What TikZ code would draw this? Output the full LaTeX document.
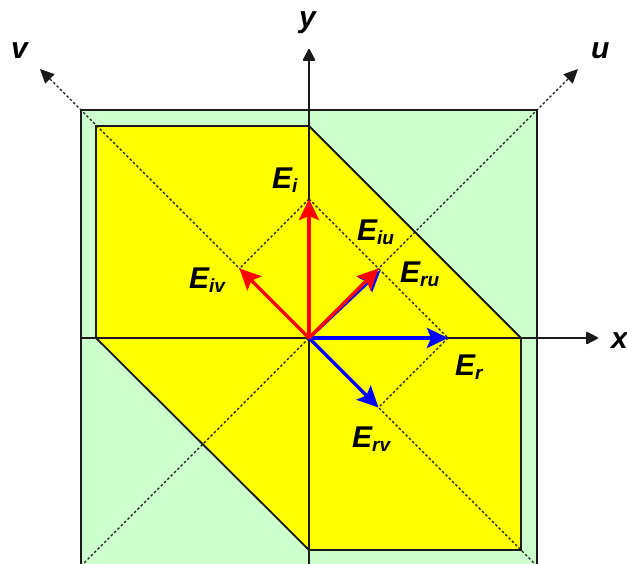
\documentclass[tikz,border=0pt]{standalone}
\usepackage{fontspec}
\setmainfont{Liberation Sans}
\usetikzlibrary{arrows.meta}
\definecolor{lgreen}{HTML}{CCFFCC}
\definecolor{yel}{HTML}{FFFF00}
\definecolor{ink}{HTML}{1A1A1A}
\newcommand\Evec[1]{E\raisebox{-4pt}{\fontsize{19}{19}\selectfont #1}}
\begin{document}
\begin{tikzpicture}[x=1pt,y=-1pt,
  outline/.style={draw=ink, line width=1.8pt, line join=miter},
  axisline/.style={draw=ink, line width=1.8pt, -{Triangle[length=13pt,width=13pt,round]}},
  dotline/.style={draw=ink, line width=1.4pt, dash pattern=on 2.5pt off 2.2pt},
  dotaxis/.style={dotline, -{Triangle[length=14pt,width=13pt]}},
  vecarrow/.style={line width=3.2pt, -{Stealth[length=21pt,width=20pt,inset=4pt]}},
  lab/.style={inner sep=0pt, anchor=base west, font=\bfseries\itshape\fontsize{30}{30}\selectfont},
]
\useasboundingbox (0,0) rectangle (627,563);
\clip (0,0) rectangle (627,563);
% coordinates
\coordinate (O) at (309,338);
\coordinate (Ei) at (309,199);
\coordinate (Er) at (448,338);
\coordinate (Eiu) at (378.5,268.5);
\coordinate (Eru) at (380.5,270.5);
\coordinate (Eiv) at (239.5,268.5);
\coordinate (Erv) at (378.5,407.5);
\coordinate (xs) at (81,338);
\coordinate (xe) at (598,338);
\coordinate (ys) at (309,566);
\coordinate (ye) at (309,49);
\coordinate (us) at (81,566);
\coordinate (ue) at (578,69);
\coordinate (vs) at (537,566);
\coordinate (ve) at (40,69);
% regions
\path[fill=lgreen, outline] (81,110) rectangle (537,566);
\path[fill=yel, outline] (96,126) -- (309,126) -- (521,338) -- (521,550) -- (309,550) -- (96,338) -- cycle;
% dotted lines
\draw[dotaxis] (us) -- (ue);
\draw[dotaxis] (vs) -- (ve);
\draw[dotline] (Ei) -- (Er);
\draw[dotline] (Ei) -- (Eiv);
\draw[dotline] (Er) -- (Erv);
% axes
\draw[axisline] (xs) -- (xe);
\draw[axisline] (ys) -- (ye);
% vectors
\draw[vecarrow, blue] (O) -- (Er);
\draw[vecarrow, blue] (O) -- (Erv);
\draw[vecarrow, blue] (O) -- (Eru);
\draw[vecarrow, red] (O) -- (Eiu);
\draw[vecarrow, red] (O) -- (Ei);
\draw[vecarrow, red] (O) -- (Eiv);
% labels
\node[lab] (lEi) at (272,188) {\Evec{i}};
\node[lab] (lEiu) at (357,240) {\Evec{iu}};
\node[lab] (lEru) at (400,282) {\Evec{ru}};
\node[lab] (lEiv) at (189,288) {\Evec{iv}};
\node[lab] (lEr) at (455,375) {\Evec{r}};
\node[lab] (lErv) at (352,447) {\Evec{rv}};
\node[lab] (lx) at (611,348) {x};
\node[lab] (ly) at (299,27) {y};
\node[lab] (lu) at (591,58) {u};
\node[lab] (lv) at (11,58) {v};
\end{tikzpicture}
\end{document}
